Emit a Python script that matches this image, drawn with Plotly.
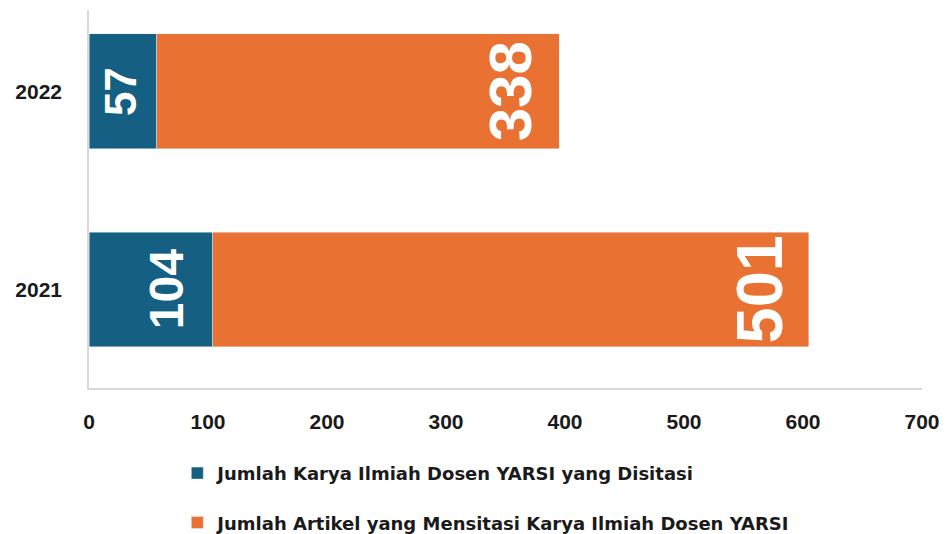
import plotly.graph_objects as go

years = ["2021", "2022"]
cited = [104, 57]
citing = [501, 338]
name_cited = "Jumlah Karya Ilmiah Dosen YARSI yang Disitasi"
name_citing = "Jumlah Artikel yang Mensitasi Karya Ilmiah Dosen YARSI"
x_ticks = [0, 100, 200, 300, 400, 500, 600, 700]

BLUE = "#156082"
ORANGE = "#E97132"
FONT = "Liberation Sans"
TXT = "#1a1a1a"

fig = go.Figure()
fig.add_trace(go.Bar(
    y=years, x=cited, orientation="h", name=name_cited, legendgroup="a",
    marker=dict(color=BLUE), width=0.58,
))
fig.add_trace(go.Bar(
    y=years, x=citing, orientation="h", name=name_citing, legendgroup="b",
    marker=dict(color=ORANGE), width=0.58,
))

# value labels, rotated, placed near the inside end of each segment
label_sizes_cited = [48, 44]
label_shift_cited = [-46, -37]
label_sizes_citing = [65, 60]
label_shift_citing = [-49, -49]
for i, yr in enumerate(years):
    ends = [cited[i], cited[i] + citing[i]]
    vals = [cited[i], citing[i]]
    sizes = [label_sizes_cited[i], label_sizes_citing[i]]
    shifts = [label_shift_cited[i], label_shift_citing[i]]
    for e, v, sz, sh in zip(ends, vals, sizes, shifts):
        fig.add_annotation(
            x=e, y=i, xref="x", yref="y", text="<b>" + str(v) + "</b>",
            showarrow=False, textangle=-90, xshift=sh,
            font=dict(color="white", size=sz, family=FONT),
        )

fig.update_layout(
    width=951, height=534,
    barmode="stack",
    plot_bgcolor="white", paper_bgcolor="white",
    margin=dict(l=81, r=37, t=2, b=154, autoexpand=False),
    font=dict(family=FONT, color=TXT),
    showlegend=True,
    legend=dict(
        orientation="v", x=0.106, y=-0.177, xanchor="left", yanchor="top",
        traceorder="grouped", tracegroupgap=23,
        font=dict(size=18, family="DejaVu Sans", weight="bold", color=TXT),
        itemwidth=30,
    ),
    xaxis=dict(
        range=[0, 700], tickvals=x_ticks, showgrid=False, zeroline=False,
        showline=True, linecolor="#D9D9D9", linewidth=1.5, automargin=False,
        ticks="outside", ticklen=14, tickcolor="rgba(0,0,0,0)",
        tickfont=dict(size=21, family=FONT, weight="bold", color=TXT),
    ),
    yaxis=dict(
        type="category", range=[-0.497, 1.41], showgrid=False, zeroline=False,
        showline=True, linecolor="#D9D9D9", linewidth=1.5, automargin=False,
        ticks="outside", ticklen=21, tickcolor="rgba(0,0,0,0)",
        tickfont=dict(size=21, family=FONT, weight="bold", color=TXT),
    ),
)

fig.write_html("out.html")
